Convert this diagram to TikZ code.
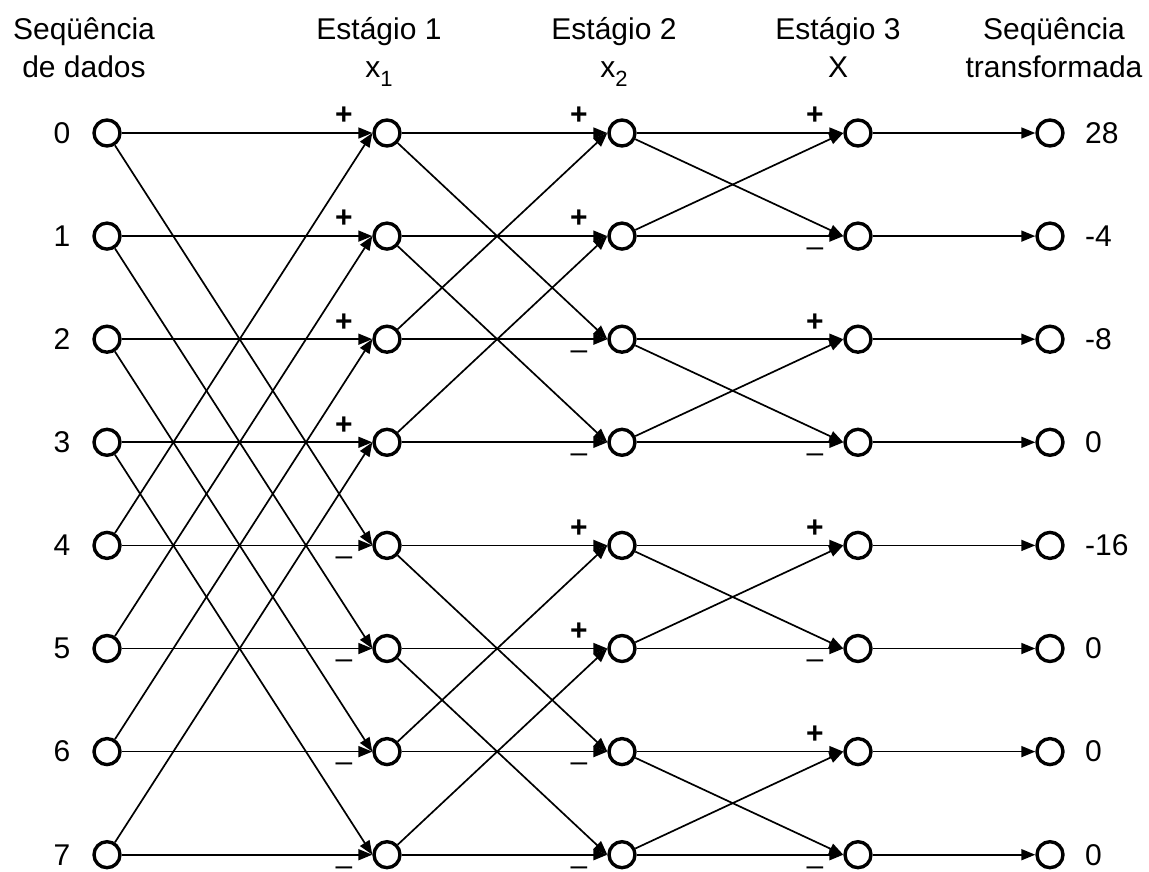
\documentclass[tikz,border=0pt]{standalone}
\usepackage{fontspec}
\setmainfont{Liberation Sans}
\usetikzlibrary{arrows.meta}
\newcommand{\lowidx}[1]{\raisebox{-0.3em}{\fontsize{22}{22}\selectfont #1}}
\begin{document}
\begin{tikzpicture}[>={Triangle[length=14pt,width=11pt]}, x=1pt, y=-1pt]

\tikzstyle{dot}=[circle, draw, line width=3.4pt, minimum size=26pt, inner sep=0pt, fill=white]
\tikzstyle{hdr}=[font=\fontsize{30}{38}\selectfont, align=center, inner sep=0pt]
\tikzstyle{lbl}=[font=\fontsize{30}{30}\selectfont, inner sep=0pt]
\tikzstyle{plus}=[font=\bfseries\fontsize{30}{30}\selectfont, inner sep=0pt]
\tikzstyle{minus}=[font=\fontsize{30}{30}\selectfont, inner sep=0pt]
\tikzstyle{arrow}=[->, line width=1.7pt]

\useasboundingbox (0,0) rectangle (1149,871);

% Headers
\node[hdr, anchor=base] (hin) at (84,77) {Seqüência\\de dados};
\node[hdr, anchor=base] (hs1) at (379,77) {Estágio 1\\x\lowidx{1}};
\node[hdr, anchor=base] (hs2) at (614,77) {Estágio 2\\x\lowidx{2}};
\node[hdr, anchor=base] (hs3) at (838,77) {Estágio 3\\X};
\node[hdr, anchor=base] (hout) at (1054,77) {Seqüência\\transformada};

% Columns of points: data, stage 1, stage 2, stage 3, output
\foreach \k/\v in {0/28,1/-4,2/-8,3/0,4/-16,5/0,6/0,7/0} {
  \pgfmathsetmacro{\yy}{133+103.1*\k}
  \node[dot] (d\k) at (107,\yy) {};
  \node[dot] (a\k) at (387,\yy) {};
  \node[dot] (b\k) at (622,\yy) {};
  \node[dot] (c\k) at (858,\yy) {};
  \node[dot] (t\k) at (1050,\yy) {};
  \node[lbl] (n\k) at (62,\yy) {\k};
  \node[lbl, anchor=west] (v\k) at (1085,\yy) {\v};
}

% Butterflies of the three stages
\foreach \src/\dst/\h in {d/a/4, a/b/2, b/c/1} {
  \foreach \k in {0,...,7} {
    \pgfmathtruncatemacro{\up}{mod(floor(\k/\h),2)}
    \pgfmathtruncatemacro{\p}{\up==0 ? \k+\h : \k-\h}
    \draw[arrow] (\src\k) -- (\dst\k.west);
    \draw[arrow] (\src\p) -- (\dst\k.west);
    \ifnum\up=0
      \node[plus] (s\dst\k) at ([shift={(-43,-17)}]\dst\k.center) {+};
    \else
      \node[minus] (s\dst\k) at ([shift={(-43,16)}]\dst\k.center) {–};
    \fi
  }
}

% Output
\foreach \k in {0,...,7}
  \draw[arrow] (c\k) -- (t\k.west);

\end{tikzpicture}
\end{document}
